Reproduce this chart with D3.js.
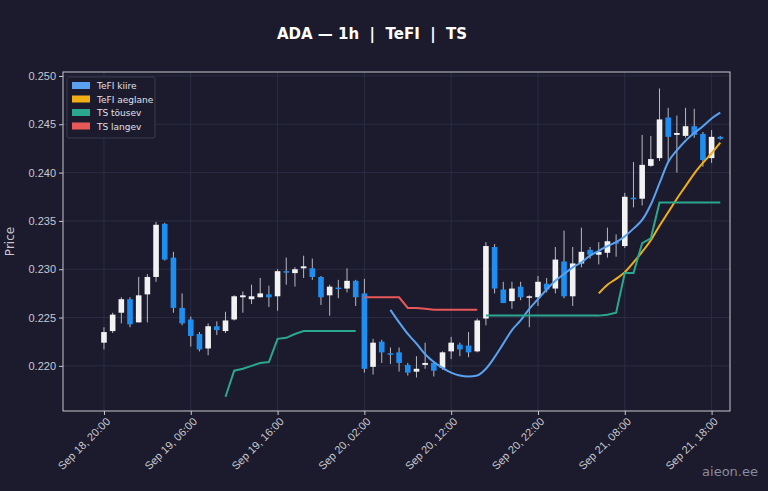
<!DOCTYPE html>
<html><head><meta charset="utf-8">
<script src="https://cdn.jsdelivr.net/npm/d3@7"></script>
<style>body{margin:0;background:#1b1b2d;}svg{display:block;font-family:"DejaVu Sans",sans-serif;}</style>
</head><body><svg id="c" width="768" height="491"></svg>
<script>
const startTime = new Date(2024, 8, 18, 20, 0);
const opens  = [0.2224,0.2236,0.2255,0.2269,0.2245,0.2274,0.2292,0.2347,0.2312,0.2260,0.2248,0.2233,0.2218,0.2241,0.2236,0.2248,0.2271,0.2269,0.2271,0.2274,0.2272,0.2298,0.2296,0.2301,0.2301,0.2292,0.2273,0.2281,0.2280,0.2288,0.2275,0.2199,0.2225,0.2213,0.2214,0.2201,0.2194,0.2201,0.2203,0.2198,0.2215,0.2222,0.2221,0.2215,0.2249,0.2323,0.2279,0.2267,0.2282,0.2271,0.2271,0.2285,0.2280,0.2308,0.2272,0.2306,0.2320,0.2315,0.2317,0.2328,0.2324,0.2374,0.2373,0.2407,0.2415,0.2457,0.2439,0.2438,0.2448,0.2440,0.2415,0.2437];
const closes = [0.2235,0.2253,0.2269,0.2243,0.2273,0.2292,0.2346,0.2310,0.2260,0.2244,0.2231,0.2217,0.2241,0.2237,0.2247,0.2272,0.2273,0.2272,0.2275,0.2271,0.2298,0.2297,0.2300,0.2303,0.2292,0.2271,0.2282,0.2280,0.2288,0.2271,0.2197,0.2224,0.2214,0.2212,0.2203,0.2193,0.2197,0.2203,0.2195,0.2214,0.2224,0.2217,0.2214,0.2247,0.2324,0.2280,0.2265,0.2280,0.2271,0.2272,0.2287,0.2279,0.2310,0.2272,0.2306,0.2318,0.2315,0.2318,0.2329,0.2327,0.2375,0.2373,0.2408,0.2414,0.2455,0.2437,0.2441,0.2448,0.2439,0.2413,0.2437,0.2435];
const highs  = [0.2240,0.2255,0.2271,0.2271,0.2292,0.2295,0.2349,0.2348,0.2318,0.2275,0.2251,0.2235,0.2244,0.2246,0.2256,0.2273,0.2277,0.2284,0.2291,0.2283,0.2300,0.2312,0.2302,0.2314,0.2311,0.2293,0.2284,0.2289,0.2301,0.2289,0.2290,0.2228,0.2227,0.2219,0.2219,0.2203,0.2210,0.2224,0.2205,0.2215,0.2230,0.2224,0.2235,0.2249,0.2328,0.2326,0.2287,0.2287,0.2287,0.2273,0.2293,0.2291,0.2323,0.2340,0.2323,0.2343,0.2323,0.2328,0.2343,0.2336,0.2379,0.2411,0.2439,0.2438,0.2487,0.2467,0.2459,0.2467,0.2466,0.2442,0.2444,0.2438];
const lows   = [0.2217,0.2234,0.2244,0.2240,0.2245,0.2245,0.2287,0.2309,0.2255,0.2242,0.2220,0.2215,0.2211,0.2232,0.2234,0.2247,0.2255,0.2264,0.2271,0.2261,0.2257,0.2284,0.2282,0.2291,0.2289,0.2263,0.2252,0.2270,0.2276,0.2262,0.2193,0.2191,0.2203,0.2202,0.2194,0.2190,0.2188,0.2197,0.2189,0.2196,0.2207,0.2210,0.2209,0.2214,0.2242,0.2275,0.2265,0.2259,0.2268,0.2240,0.2262,0.2276,0.2275,0.2270,0.2262,0.2302,0.2311,0.2305,0.2312,0.2313,0.2322,0.2364,0.2366,0.2406,0.2412,0.2411,0.2400,0.2436,0.2436,0.2406,0.2410,0.2434];
const fastStart = 33;
const fastLine = [0.2258,0.2245,0.2233,0.2223,0.2212,0.2204,0.2198,0.2193,0.2190,0.2189,0.2190,0.2197,0.2209,0.2223,0.2237,0.2247,0.2259,0.2269,0.2279,0.2288,0.2295,0.2302,0.2307,0.2314,0.2319,0.2324,0.2328,0.2334,0.2342,0.2351,0.2367,0.2389,0.2411,0.2423,0.2433,0.2441,0.2448,0.2456,0.2462];
const slowStart = 57;
const slowLine = [0.2275,0.2284,0.2290,0.2297,0.2307,0.2318,0.2330,0.2345,0.2359,0.2373,0.2386,0.2399,0.2410,0.2420,0.2431];
const upStart1 = 14;
const upLine1 = [0.2168,0.2195,0.2197,0.2200,0.2203,0.2204,0.2228,0.2229,0.2233,0.2236,0.2236,0.2236,0.2236,0.2236,0.2236,0.2236];
const upStart2 = 44;
const upLine2 = [0.2252,0.2252,0.2252,0.2252,0.2252,0.2252,0.2252,0.2252,0.2252,0.2252,0.2252,0.2252,0.2252,0.2252,0.2253,0.2255,0.2296,0.2296,0.2327,0.2332,0.2369,0.2369,0.2369,0.2369,0.2369,0.2369,0.2369,0.2369];
const downStart = 30;
const downLine = [0.2271,0.2271,0.2271,0.2271,0.2271,0.2260,0.2260,0.2259,0.2258,0.2258,0.2258,0.2258,0.2258,0.2258];
const yTicks = [0.220,0.225,0.230,0.235,0.240,0.245,0.250];
const legendLabels = ["TeFI kiire","TeFI aeglane","TS tõusev","TS langev"];
const legendColors = ["#5aa2f0","#f0b015","#2aa88e","#e85858"];

const svg = d3.select("#c");
const L=63,R=730,T=72,B=411;
const H = 3600e3;
const t = i => new Date(startTime.getTime() + i*H);
const x = d3.scaleTime().domain([t(-4.72), t(72.12)]).range([L,R]);
const y = d3.scaleLinear().domain([0.21533,0.25041]).range([B,T]);

// grid
const xt = d3.range(0,72,10).map(t);
svg.append("g").selectAll("line").data(xt).join("line")
  .attr("x1",d=>x(d)).attr("x2",d=>x(d)).attr("y1",T).attr("y2",B)
  .attr("stroke","#2c2c44").attr("stroke-width",1);
svg.append("g").selectAll("line").data(yTicks).join("line")
  .attr("x1",L).attr("x2",R).attr("y1",d=>y(d)).attr("y2",d=>y(d))
  .attr("stroke","#2c2c44").attr("stroke-width",1);

// candles
const cw = 5.6;
const idx = d3.range(opens.length);
const cg = svg.append("g");
cg.selectAll("line").data(idx).join("line")
  .attr("x1",i=>x(t(i))).attr("x2",i=>x(t(i)))
  .attr("y1",i=>y(highs[i])).attr("y2",i=>y(lows[i]))
  .attr("stroke","#b8b8c0").attr("stroke-width",1);
cg.selectAll("rect").data(idx).join("rect")
  .attr("x",i=>x(t(i))-cw/2).attr("width",cw)
  .attr("y",i=>y(Math.max(opens[i],closes[i])))
  .attr("height",i=>Math.max(1.5,Math.abs(y(opens[i])-y(closes[i]))))
  .attr("fill",i=>closes[i]>=opens[i]?"#f2f2f2":"#1e8ff0");

function drawLine(start, vals, color, curve){
  const line = d3.line().x((d,k)=>x(t(start+k))).y(d=>y(d)).curve(curve||d3.curveLinear);
  svg.append("path").datum(vals).attr("d",line).attr("fill","none")
    .attr("stroke",color).attr("stroke-width",2);
}
drawLine(fastStart, fastLine, legendColors[0], d3.curveMonotoneX);
drawLine(slowStart, slowLine, legendColors[1], d3.curveMonotoneX);
drawLine(upStart1, upLine1, legendColors[2]);
drawLine(upStart2, upLine2, legendColors[2]);
drawLine(downStart, downLine, legendColors[3]);

// frame
svg.append("rect").attr("x",L).attr("y",T).attr("width",R-L).attr("height",B-T)
  .attr("fill","none").attr("stroke","#c8c8d0").attr("stroke-width",1);

// axes
const ya = svg.append("g").attr("transform",`translate(${L},0)`)
  .call(d3.axisLeft(y).tickValues(yTicks).tickFormat(d3.format(".3f")).tickSize(4));
const fmt = d3.timeFormat("%b %d, %H:%M");
const xa = svg.append("g").attr("transform",`translate(0,${B})`)
  .call(d3.axisBottom(x).tickValues(xt).tickFormat(fmt).tickSize(4));
[ya,xa].forEach(a=>{a.select(".domain").remove();
  a.selectAll("line").attr("stroke","#c8c8d0");
  a.selectAll("text").attr("fill","#c8c8d0").attr("font-size",11);});
xa.selectAll("text").attr("text-anchor","end").attr("dx","-0.3em").attr("dy","0.5em")
  .attr("transform","rotate(-45)");

svg.append("text").attr("x",14).attr("y",(T+B)/2).attr("transform",`rotate(-90,14,${(T+B)/2})`)
  .attr("text-anchor","middle").attr("fill","#c8c8d0").attr("font-size",12).text("Price");
svg.append("text").attr("x",372).attr("y",39).attr("text-anchor","middle")
  .attr("fill","#ffffff").attr("font-size",15).attr("font-weight","bold")
  .text("ADA — 1h  |  TeFI  |  TS").style("white-space","pre");

// legend
const lg = svg.append("g").attr("transform","translate(67,77)");
lg.append("rect").attr("width",88).attr("height",61).attr("rx",2)
  .attr("fill","#1b1b2d").attr("stroke","#3a3a50");
legendLabels.forEach((lab,k)=>{
  lg.append("rect").attr("x",5).attr("y",5+k*13.5).attr("width",18).attr("height",7).attr("fill",legendColors[k]);
  lg.append("text").attr("x",30).attr("y",12+k*13.5).attr("fill","#e0e0e8").attr("font-size",9).text(lab);
});
svg.append("text").attr("x",758).attr("y",476).attr("text-anchor","end")
  .attr("fill","#8a8a9a").attr("font-size",13).text("aieon.ee");
</script></body></html>
